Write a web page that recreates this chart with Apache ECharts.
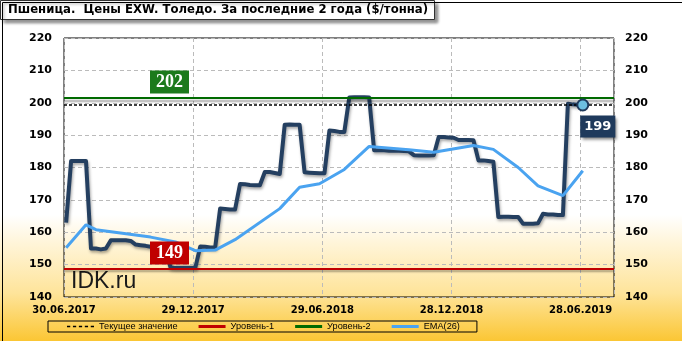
<!DOCTYPE html>
<html><head><meta charset="utf-8">
<script src="https://cdn.jsdelivr.net/npm/echarts@6/dist/echarts.min.js"></script>
<style>
html,body{margin:0;padding:0;}
#c{width:682px;height:341px;background:linear-gradient(to bottom,#ffffff 0%,#ffffff 63%,#fff5da 71%,#fee49a 86%,#fbc634 100%);}
</style></head><body><div id="c"></div>
<script>
const titleText = 'Пшеница.  Цены EXW. Толедо. За последние 2 года ($/тонна)';
const tickLabels = ['30.06.2017', '29.12.2017', '29.06.2018', '28.12.2018', '28.06.2019'];
const legendNames = ['Текущее значение', 'Уровень-1', 'Уровень-2', 'EMA(26)'];
const tickStepDays = 182;      // 26 weeks between date labels
const firstPointDay = 3;       // first weekly quote, days after 30.06.2017
const weekDays = 7;
const xMaxDays = 775;

// weekly prices, $/t
const prices = [
  163, 182, 182, 182, 182, 155, 155, 154.7, 155, 157.5,
  157.5, 157.5, 157.5, 157.3, 156.2, 156, 155.8, 155.5, 155.3, 155,
  154.5, 149.2, 149, 149, 149, 149, 149, 155.6, 155.5, 155.3,
  155.3, 167.3, 167.2, 167, 167, 174.9, 174.8, 174.6, 174.5, 174.5,
  178.6, 178.6, 178.3, 178, 193.2, 193.3, 193.2, 193.2, 178.5, 178.4,
  178.3, 178.2, 178.2, 191.4, 191.3, 191, 191, 201.6, 201.7, 201.7,
  201.7, 201.6, 185.3, 185.3, 185.3, 185.2, 185.2, 185.2, 185.1, 185,
  183.8, 183.7, 183.7, 183.7, 183.8, 189.4, 189.4, 189.3, 189.2, 188.5,
  188.5, 188.5, 188.4, 182.2, 182.2, 182, 181.8, 164.7, 164.8, 164.8,
  164.7, 164.7, 162.6, 162.6, 162.6, 162.8, 165.7, 165.5, 165.5, 165.3,
  165.3, 199.7, 199.5, 199.4, 199.3
];
// EMA(26) vertices: week index and value
const emaWeeks  = [0, 4, 6, 17, 22, 26, 30, 34, 43, 47, 51, 56, 61, 69, 74, 82, 86, 91, 95, 100, 104];
const emaValues = [155.2, 162.3, 160.8, 158.5, 157, 154.3, 154.5, 157.7, 167.3, 173.9, 175, 179.4, 186.5, 185.5, 184.7, 186.8, 185.6, 180, 174.3, 171.3, 179];

const level1 = 148.8;
const level2 = 201.6;
const yMin = 140, yMax = 220, yStep = 10;

const dayOf = i => firstPointDay + i * weekDays;
const priceData = prices.map((v, i) => [dayOf(i), v]);
const emaData = emaWeeks.map((w, k) => [dayOf(w), emaValues[k]]);
const lastIdx = prices.length - 1;
const currentValue = prices[lastIdx];

const chart = echarts.init(document.getElementById('c'), null, {renderer: 'canvas'});
const axisFont = {fontFamily: 'DejaVu Sans', fontWeight: 'bold', color: '#000'};

function levelLabel(bg) {
  return {
    show: true, position: 'insideStartTop', distance: [86, 4],
    formatter: p => Math.round(p.value),
    backgroundColor: bg, color: '#fff', fontFamily: 'Liberation Serif', fontWeight: 'bold',
    fontSize: 18, padding: [3, 6, 2, 6]
  };
}

const solidIcon = 'path://M0,0H27V3H0Z';
const dashIcon = 'path://M0,0H3V1.5H0Z M5.5,0H8.5V1.5H5.5Z M11,0H14V1.5H11Z M16.5,0H19.5V1.5H16.5Z M22,0H25V1.5H22Z';

chart.setOption({
  backgroundColor: 'transparent',
  animation: false,
  title: {
    text: titleText, left: 0, top: 0,
    padding: [4, 7, 4, 8],
    backgroundColor: '#fff', borderColor: '#333', borderWidth: 1,
    shadowColor: 'rgba(0,0,0,0.45)', shadowBlur: 3, shadowOffsetX: 3, shadowOffsetY: 3,
    textStyle: {fontFamily: 'DejaVu Sans', fontWeight: 'bold', fontSize: 11.7, color: '#000'}
  },
  legend: {
    data: [
      {name: legendNames[0], icon: dashIcon},
      {name: legendNames[1], icon: solidIcon},
      {name: legendNames[2], icon: solidIcon},
      {name: legendNames[3], icon: solidIcon}
    ],
    left: 48, top: 321,
    padding: [1, 17, 1, 19], itemGap: 21, itemWidth: 27, itemHeight: 10,
    borderColor: '#000', borderWidth: 1,
    textStyle: {fontFamily: 'Liberation Sans', fontSize: 9.2, color: '#000'}
  },
  grid: {left: 64, right: 68, top: 38, bottom: 44, show: true, borderColor: '#000', borderWidth: 1, backgroundColor: 'transparent'},
  xAxis: {
    type: 'value', min: 0, max: xMaxDays, interval: tickStepDays,
    axisLine: {show: false}, axisTick: {show: false},
    splitLine: {show: true, lineStyle: {color: '#bbb', type: [4, 3]}},
    axisLabel: Object.assign({fontSize: 10, margin: 8, showMaxLabel: false,
      formatter: v => (v % tickStepDays === 0 ? (tickLabels[v / tickStepDays] || '') : '')}, axisFont)
  },
  yAxis: [
    {type: 'value', min: yMin, max: yMax, interval: yStep, position: 'left',
     axisLine: {show: false}, axisTick: {show: false},
     splitLine: {show: true, lineStyle: {color: '#bbb', type: [4, 3]}},
     axisLabel: Object.assign({fontSize: 11, margin: 12}, axisFont)},
    {type: 'value', min: yMin, max: yMax, interval: yStep, position: 'right',
     axisLine: {show: false}, axisTick: {show: false}, splitLine: {show: false},
     axisLabel: Object.assign({fontSize: 11, margin: 11}, axisFont)}
  ],
  graphic: [
    {type: 'text', left: 71, top: 270, silent: true,
     style: {text: 'IDK.ru', font: '23px "Liberation Sans"', fill: '#1a1a1a'}},
    {type: 'rect', left: 0, top: 0, silent: true, z: 100,
     shape: {x: 0, y: 0, width: 681, height: 340},
     style: {fill: 'none', stroke: '#000', lineWidth: 1}}
  ],
  series: [
    {name: 'Уровень-1', type: 'line', data: [], symbol: 'none', color: '#c00000',
     lineStyle: {color: '#c00000', width: 2},
     markLine: {silent: true, symbol: ['none', 'none'],
       lineStyle: {color: '#c00000', width: 2, type: 'solid', shadowColor: 'rgba(0,0,0,0.35)', shadowOffsetY: 2, shadowBlur: 2},
       label: levelLabel('#c00000'), data: [{yAxis: level1}]}},
    {name: 'Уровень-2', type: 'line', data: [], symbol: 'none', color: '#006a00',
     lineStyle: {color: '#006a00', width: 2},
     markLine: {silent: true, symbol: ['none', 'none'],
       lineStyle: {color: '#006a00', width: 2, type: 'solid', shadowColor: 'rgba(0,0,0,0.35)', shadowOffsetY: 3, shadowBlur: 2},
       label: levelLabel('#1c7a1c'), data: [{yAxis: level2}]}},
    {name: 'Текущее значение', type: 'line', data: [], symbol: 'none', color: '#000',
     lineStyle: {color: '#000', width: 1.5, type: [3, 2]},
     markLine: {silent: true, symbol: ['none', 'none'],
       lineStyle: {color: '#000', width: 1.5, type: [3, 2]},
       label: {show: false}, data: [{yAxis: currentValue}]}},
    {name: 'Цена', type: 'line', data: priceData, symbol: 'none', z: 3,
     lineStyle: {color: '#243f60', width: 4, join: 'round', shadowColor: 'rgba(0,0,0,0.35)', shadowBlur: 3, shadowOffsetX: 1, shadowOffsetY: 2},
     markPoint: {
       symbol: 'circle', symbolSize: 11,
       itemStyle: {color: '#6cbfe0', borderColor: '#1f3a5c', borderWidth: 2},
       label: {show: true, position: 'bottom', distance: 5, offset: [15, -1],
         formatter: p => Math.round(p.value),
         backgroundColor: '#1f3a5c', color: '#fff', fontFamily: 'DejaVu Sans', fontWeight: 'bold', fontSize: 13,
         padding: [5, 4, 4, 4], shadowColor: 'rgba(0,0,0,0.5)', shadowBlur: 3, shadowOffsetX: 2, shadowOffsetY: 2},
       data: [{coord: priceData[lastIdx], value: currentValue}]
     }},
    {name: 'EMA(26)', type: 'line', data: emaData, symbol: 'none', z: 4, color: '#4aa3f0',
     lineStyle: {color: '#4aa3f0', width: 3}}
  ]
});
</script></body></html>
